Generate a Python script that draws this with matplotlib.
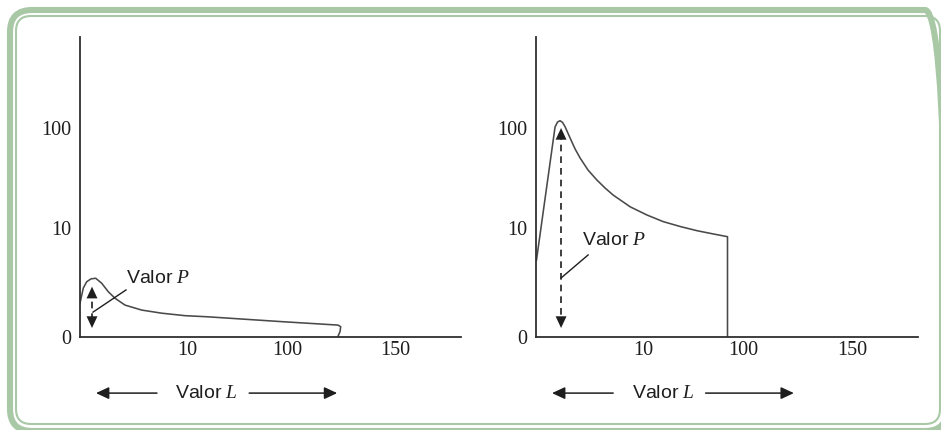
import matplotlib
matplotlib.use("Agg")
import matplotlib.pyplot as plt
import numpy as np
from matplotlib.patches import FancyBboxPatch

plt.rcParams["mathtext.fontset"] = "custom"
plt.rcParams["mathtext.it"] = "Liberation Serif:italic"
plt.rcParams["mathtext.rm"] = "Liberation Serif"

# tick labels (schematic axes)
y_ticks = [0, 10, 100]
y_ticklabels = ["0", "10", "100"]
x_ticks = [1.07, 2.07, 3.15]
x_ticklabels = ["10", "100", "150"]

# left panel curve
left_x = [0.0, 0.033, 0.067, 0.11, 0.157, 0.217, 0.283, 0.35, 0.45, 0.617,
          0.817, 1.05, 1.28, 2.03, 2.30, 2.58, 2.607, 2.60, 2.577]
left_y = [1.11, 1.94, 2.38, 2.60, 2.65, 2.27, 1.71, 1.35, 1.02, 0.81,
          0.69, 0.60, 0.56, 0.40, 0.35, 0.30, 0.255, 0.124, 0.0]

# right panel curve
right_x = [0.005, 0.19, 0.215, 0.24, 0.265, 0.29, 0.34, 0.39, 0.44, 0.52,
           0.607, 0.69, 0.77, 0.94, 1.107, 1.27, 1.44, 1.607, 1.77, 1.91, 1.91]
right_y = [4.46, 101.3, 113.0, 116.5, 112.0, 101.9, 79.2, 62.0, 50.6, 38.5,
           30.8, 25.6, 21.8, 16.6, 13.7, 11.7, 10.4, 9.4, 8.68, 8.12, 0.0]

# "Valor P" markers: arrow x, arrow top, arrow bottom, leader start, leader end
left_arrow = (0.12, 2.03, 0.22)
left_leader = [(0.13, 0.73), (0.46, 1.82)]
right_arrow = (0.25, 99.0, 0.22)
right_leader = [(0.25, 2.67), (0.52, 5.1)]
label_p = "Valor $P$"
label_l = "Valor $L$"

curve_color = "#4a4a4a"
axis_color = "#2f2f2f"
ink = "#1e1e1e"
frame_color = "#a9c9a6"
sans = ["Liberation Sans Narrow", "Liberation Sans", "DejaVu Sans"]
head = "-|>,head_length=0.6,head_width=0.28"


def fwd(y):
    return np.log10(1 + np.maximum(y, -0.99))


def inv(y):
    return 10 ** y - 1


fig = plt.figure(figsize=(9.41, 4.30), dpi=100)

# green double rounded frame (inches, origin bottom-left)
outer = FancyBboxPatch((0.10, -0.01), 9.37, 4.21,
                       boxstyle="round,pad=0,rounding_size=0.22",
                       transform=fig.dpi_scale_trans, fill=False,
                       edgecolor=frame_color, lw=4.4, clip_on=False)
inner = FancyBboxPatch((0.16, 0.06), 9.24, 4.08,
                       boxstyle="round,pad=0,rounding_size=0.15",
                       transform=fig.dpi_scale_trans, fill=False,
                       edgecolor=frame_color, lw=1.5, clip_on=False)
fig.add_artist(outer)
fig.add_artist(inner)

ax_left = fig.add_axes([80 / 941, 93 / 430, 381 / 941, 300 / 430])
ax_right = fig.add_axes([536 / 941, 93 / 430, 382 / 941, 300 / 430])

panels = [
    (ax_left, left_x, left_y, left_arrow, left_leader, (0.46, 2.59)),
    (ax_right, right_x, right_y, right_arrow, right_leader, (0.46, 7.3)),
]

for ax, cx, cy, arr, lead, ptxt in panels:
    ax.set_yscale("function", functions=(fwd, inv))
    ax.set_xlim(0, 3.81)
    ax.set_ylim(0, 742)
    ax.plot(cx, cy, color=curve_color, lw=1.15, solid_joinstyle="round")

    # dashed double-headed arrow
    ax_x, y_top, y_bot = arr
    ax.plot([ax_x, ax_x], [y_top * 0.9, y_bot + 0.1], color=ink, lw=1.2,
            ls=(0, (4, 3)))
    for ya, yb in [(y_top, y_top * 0.75), (y_bot, y_bot + 0.4)]:
        ax.annotate("", xy=(ax_x, ya), xytext=(ax_x, yb),
                    arrowprops=dict(arrowstyle=head, color=ink,
                                    lw=0.01, mutation_scale=14,
                                    shrinkA=0, shrinkB=0))
    ax.plot([lead[0][0], lead[1][0]], [lead[0][1], lead[1][1]],
            color=ink, lw=1.0)
    ax.text(ptxt[0], ptxt[1], label_p, fontsize=14, family=sans,
            color=ink, ha="left", va="center")

    # "Valor L" with arrows below axis
    ax.text(0.333, -0.187, label_l, transform=ax.transAxes, fontsize=14,
            family=sans, color=ink, ha="center", va="center")
    ax.annotate("", xy=(0.042, -0.187), xytext=(0.202, -0.187),
                xycoords="axes fraction", textcoords="axes fraction",
                arrowprops=dict(arrowstyle=head, color=ink, lw=1.1,
                                mutation_scale=13, shrinkA=0, shrinkB=0))
    ax.annotate("", xy=(0.675, -0.187), xytext=(0.444, -0.187),
                xycoords="axes fraction", textcoords="axes fraction",
                arrowprops=dict(arrowstyle=head, color=ink, lw=1.1,
                                mutation_scale=13, shrinkA=0, shrinkB=0))

    ax.set_yticks(y_ticks, y_ticklabels)
    ax.set_xticks(x_ticks, x_ticklabels)
    ax.minorticks_off()
    ax.tick_params(length=0, labelsize=14.5, colors=ink)
    ax.tick_params(axis="y", pad=6)
    ax.tick_params(axis="x", pad=3)
    for lab in ax.get_xticklabels() + ax.get_yticklabels():
        lab.set_family("Liberation Serif")
    for side in ["top", "right"]:
        ax.spines[side].set_visible(False)
    for side in ["left", "bottom"]:
        ax.spines[side].set_color(axis_color)
        ax.spines[side].set_linewidth(1.3)
    ax.patch.set_alpha(0)

fig.savefig("out.png", dpi=100)
